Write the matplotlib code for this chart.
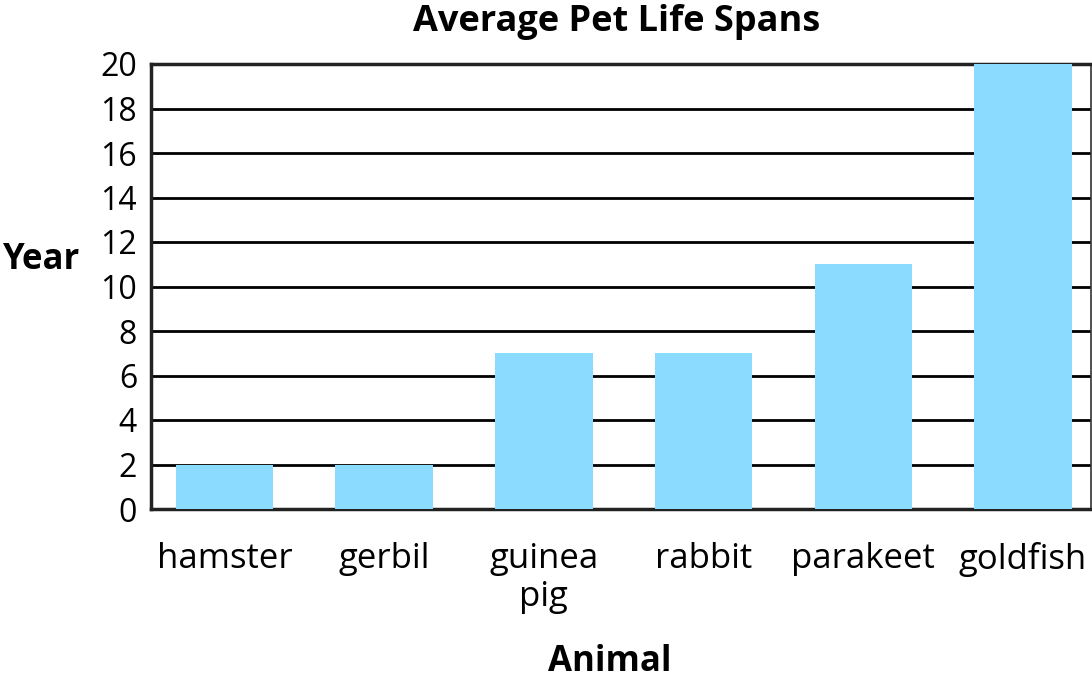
import matplotlib
matplotlib.use("Agg")
import matplotlib.pyplot as plt
import numpy as np

plt.rcParams["font.family"] = ["Open Sans", "DejaVu Sans"]

animals = ["hamster", "gerbil", "guinea\npig", "rabbit", "parakeet", "goldfish"]
years = [2, 2, 7, 7, 11, 20]
y_ticks = list(range(0, 21, 2))

fig = plt.figure(figsize=(10.92, 6.82), dpi=100)
ax = fig.add_axes([151 / 1092, 1 - 509 / 682, 940 / 1092, 445 / 682])

x = np.arange(len(animals))
ax.bar(x, years, width=0.61, color="#8BDAFF", zorder=3)

ax.set_yticks(y_ticks)
ax.set_ylim(0, 20)
ax.set_xlim(-0.46, 5.426)
ax.yaxis.grid(True, color="black", linewidth=2, zorder=1)
ax.set_axisbelow(True)
ax.set_xticks(x)
ax.set_xticklabels(animals, fontsize=25, linespacing=1.15, va="top")
ax.tick_params(axis="y", labelsize=23, length=0, pad=10)
ax.tick_params(axis="x", length=0, pad=24)
for side in ["left", "bottom", "top"]:
    ax.spines[side].set_linewidth(2.5)
    ax.spines[side].set_color("#222222")
ax.spines["right"].set_linewidth(1.2)
ax.spines["right"].set_color("#333333")

fig.text(617 / 1092, 1 - 22 / 682, "Average Pet Life Spans", fontsize=26,
         fontweight="bold", ha="center", va="center")
fig.text(3 / 1092, 1 - 260 / 682, "Year", fontsize=25, fontweight="bold",
         ha="left", va="center")
fig.text(610 / 1092, 1 - 662 / 682, "Animal", fontsize=25, fontweight="bold",
         ha="center", va="center")

fig.savefig("out.png", dpi=100)
